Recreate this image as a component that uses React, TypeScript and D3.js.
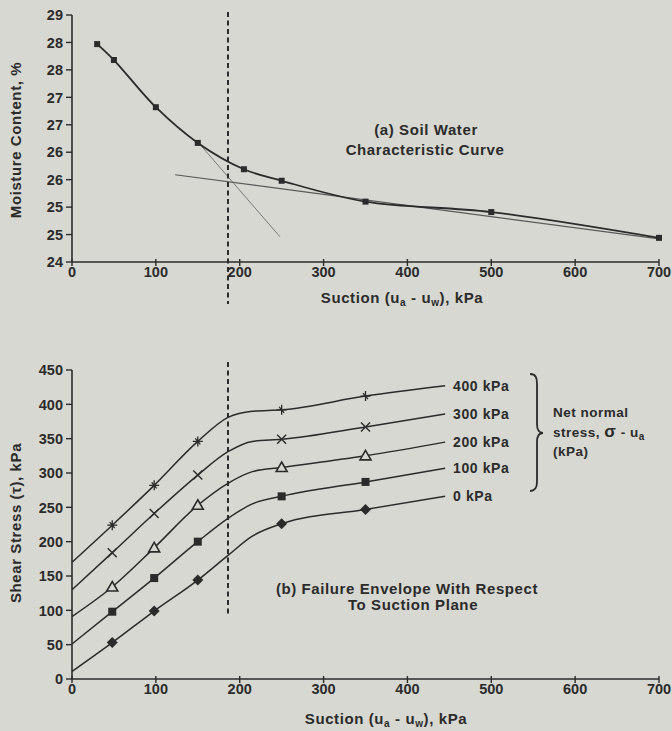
import React from "react";
import * as d3 from "d3";

// ---------- data ----------
const suctionTicks = [0, 100, 200, 300, 400, 500, 600, 700];
const moistureTickValues = [29, 28.5, 28, 27.5, 27, 26.5, 26, 25.5, 25, 24.5];
const moistureTickLabels = ["29", "28", "28", "27", "27", "26", "26", "25", "25", "24"];
const shearTicks = [0, 50, 100, 150, 200, 250, 300, 350, 400, 450];

const swccSuction = [30, 50, 100, 150, 205, 250, 350, 500, 700];
const swccMoisture = [28.47, 28.18, 27.32, 26.67, 26.19, 25.98, 25.6, 25.41, 24.94];

const steepTangentSuction = [151, 248];
const steepTangentMoisture = [26.67, 24.96];
const residualTangentSuction = [123, 700];
const residualTangentMoisture = [26.09, 24.92];

const airEntrySuction = 186;

const curveSuction = [0, 48, 98, 150, 186, 215, 250, 350, 445];
const markerIndex = [1, 2, 3, 6, 7];
const tau400 = [170, 224, 282, 346, 381, 390, 392, 412, 427];
const tau300 = [130, 184, 241, 297, 331, 346, 349, 367, 386];
const tau200 = [91, 134, 191, 253, 285, 302, 308, 325, 345];
const tau100 = [51, 98, 147, 200, 234, 255, 266, 287, 307];
const tau0 = [11, 53, 99, 144, 180, 208, 226, 247, 266];
const seriesLabels = ["400 kPa", "300 kPa", "200 kPa", "100 kPa", "0 kPa"];
const seriesMarkers = ["star", "cross", "triangle", "square", "diamond"];

// ---------- layout ----------
const W = 672;
const H = 731;
const FONT = "'Liberation Sans', Arial, sans-serif";
const INK = "#2b2b2b";
const BG = "#d7d8d1";

const xScale = d3.scaleLinear().domain([0, 700]).range([72, 659]);
const yTop = d3.scaleLinear().domain([24.5, 29]).range([262, 15]);
const yBot = d3.scaleLinear().domain([0, 450]).range([679, 370]);

function Marker({ type, x, y }: { type: string; x: number; y: number }) {
  if (type === "square") return <rect x={x - 4} y={y - 4} width={8} height={8} fill={INK} />;
  if (type === "diamond")
    return <path d={`M${x},${y - 5.5}L${x + 5.5},${y}L${x},${y + 5.5}L${x - 5.5},${y}Z`} fill={INK} />;
  if (type === "triangle")
    return (
      <path d={`M${x},${y - 5.5}L${x + 5.5},${y + 4}L${x - 5.5},${y + 4}Z`} fill={BG} stroke={INK} strokeWidth={1.6} />
    );
  if (type === "cross")
    return (
      <path d={`M${x - 4.5},${y - 4.5}L${x + 4.5},${y + 4.5}M${x + 4.5},${y - 4.5}L${x - 4.5},${y + 4.5}`} stroke={INK} strokeWidth={1.4} />
    );
  return (
    <path
      d={`M${x},${y - 5}L${x},${y + 5}M${x - 5},${y}L${x + 5},${y}M${x - 2.5},${y - 3}L${x + 2.5},${y + 3}`}
      stroke={INK}
      strokeWidth={1.3}
    />
  );
}

export default function App() {
  const topLine = d3
    .line<number>()
    .x((_, i) => xScale(swccSuction[i]))
    .y((v) => yTop(v))
    .curve(d3.curveCatmullRom.alpha(0.5));
  const straight = (xs: number[], ys: number[]) =>
    d3.line<number>().x((_, i) => xScale(xs[i])).y((v) => yTop(v))(ys) || "";
  const botLine = d3
    .line<number>()
    .x((_, i) => xScale(curveSuction[i]))
    .y((v) => yBot(v))
    .curve(d3.curveMonotoneX);
  const series = [tau400, tau300, tau200, tau100, tau0];

  const tickFont = { fontFamily: FONT, fontWeight: 700, fontSize: 14.5, fill: INK } as const;
  const labelFont = { fontFamily: FONT, fontWeight: 700, fontSize: 15, fill: INK, letterSpacing: 0.6 } as const;

  const xAxis = (y0: number) => (
    <g>
      <line x1={xScale(0)} x2={xScale(700)} y1={y0} y2={y0} stroke={INK} strokeWidth={1.6} />
      {suctionTicks.map((t) => (
        <g key={t}>
          <line x1={xScale(t)} x2={xScale(t)} y1={y0 - 3} y2={y0 + 4} stroke={INK} strokeWidth={1.4} />
          <text x={xScale(t)} y={y0 + 15} textAnchor="middle" {...tickFont}>
            {t}
          </text>
        </g>
      ))}
    </g>
  );

  const suctionLabel = (x: number, y: number) => (
    <text x={x} y={y} textAnchor="middle" {...labelFont}>
      Suction (u
      <tspan fontSize={10} dy={3}>a</tspan>
      <tspan dy={-3}> - u</tspan>
      <tspan fontSize={10} dy={3}>w</tspan>
      <tspan dy={-3}>), kPa</tspan>
    </text>
  );

  return (
    <svg width={W} height={H} style={{ position: "absolute", left: 0, top: 0, display: "block" }}>
      <rect x={0} y={0} width={W} height={H} fill={BG} />

      {/* ---------- top chart ---------- */}
      <line x1={72} x2={72} y1={yTop(29)} y2={yTop(24.5)} stroke={INK} strokeWidth={1.6} />
      {moistureTickValues.map((v, i) => (
        <g key={i}>
          <line x1={66} x2={72} y1={yTop(v)} y2={yTop(v)} stroke={INK} strokeWidth={1.4} />
          <text x={63} y={yTop(v)} dy="0.36em" textAnchor="end" {...tickFont}>
            {moistureTickLabels[i]}
          </text>
        </g>
      ))}
      {xAxis(yTop(24.5))}
      <text transform={`translate(21,140) rotate(-90)`} textAnchor="middle" {...labelFont}>
        Moisture Content, %
      </text>
      {suctionLabel(402, 303)}

      <path d={straight(steepTangentSuction, steepTangentMoisture)} stroke="#7a7a7a" strokeWidth={1} fill="none" />
      <path d={straight(residualTangentSuction, residualTangentMoisture)} stroke="#5a5a5a" strokeWidth={1.2} fill="none" />
      <path d={topLine(swccMoisture) || ""} stroke={INK} strokeWidth={1.8} fill="none" />
      {swccSuction.map((s, i) => (
        <rect key={i} x={xScale(s) - 3} y={yTop(swccMoisture[i]) - 3} width={6} height={6} fill={INK} />
      ))}
      <line
        x1={xScale(airEntrySuction)}
        x2={xScale(airEntrySuction)}
        y1={12}
        y2={304}
        stroke={INK}
        strokeWidth={2}
        strokeDasharray="5,3.5"
      />
      <text x={426} y={135} textAnchor="middle" {...labelFont}>
        (a) Soil Water
      </text>
      <text x={425} y={155} textAnchor="middle" {...labelFont}>
        Characteristic Curve
      </text>

      {/* ---------- bottom chart ---------- */}
      <line x1={72} x2={72} y1={yBot(450)} y2={yBot(0)} stroke={INK} strokeWidth={1.6} />
      {shearTicks.map((t) => (
        <g key={t}>
          <line x1={66} x2={72} y1={yBot(t)} y2={yBot(t)} stroke={INK} strokeWidth={1.4} />
          <text x={63} y={yBot(t)} dy="0.36em" textAnchor="end" {...tickFont}>
            {t}
          </text>
        </g>
      ))}
      {xAxis(yBot(0))}
      <text transform={`translate(21,523) rotate(-90)`} textAnchor="middle" {...labelFont}>
        Shear Stress (τ), kPa
      </text>
      {suctionLabel(386, 724)}

      {series.map((vals, si) => (
        <g key={si}>
          <path d={botLine(vals) || ""} stroke={INK} strokeWidth={1.5} fill="none" />
          {markerIndex.map((mi) => (
            <Marker key={mi} type={seriesMarkers[si]} x={xScale(curveSuction[mi])} y={yBot(vals[mi])} />
          ))}
          <text x={453} y={yBot(vals[vals.length - 1])} dy="0.36em" {...labelFont} fontSize={14} letterSpacing={0.6}>
            {seriesLabels[si]}
          </text>
        </g>
      ))}
      <line
        x1={xScale(airEntrySuction)}
        x2={xScale(airEntrySuction)}
        y1={362}
        y2={615}
        stroke={INK}
        strokeWidth={2}
        strokeDasharray="5,3.5"
      />

      <path
        d="M530,374 C536,374 537,378 537,384 L537,424 C537,430 539,433 543,433 C539,433 537,436 537,442 L537,482 C537,488 535,491 530,491"
        stroke={INK}
        strokeWidth={1.8}
        fill="none"
      />
      <text x={553} y={417} {...labelFont} fontSize={13.5} letterSpacing={0.5}>
        Net normal
      </text>
      <text x={553} y={437} {...labelFont} fontSize={13.5} letterSpacing={0.5}>
        stress, <tspan fontSize={17}>σ</tspan> - u<tspan fontSize={10} dy={3}>a</tspan>
      </text>
      <text x={553} y={456} {...labelFont} fontSize={13.5} letterSpacing={0.5}>
        (kPa)
      </text>

      <text x={407} y={594} textAnchor="middle" {...labelFont}>
        (b) Failure Envelope With Respect
      </text>
      <text x={413} y={610} textAnchor="middle" {...labelFont}>
        To Suction Plane
      </text>
    </svg>
  );
}
